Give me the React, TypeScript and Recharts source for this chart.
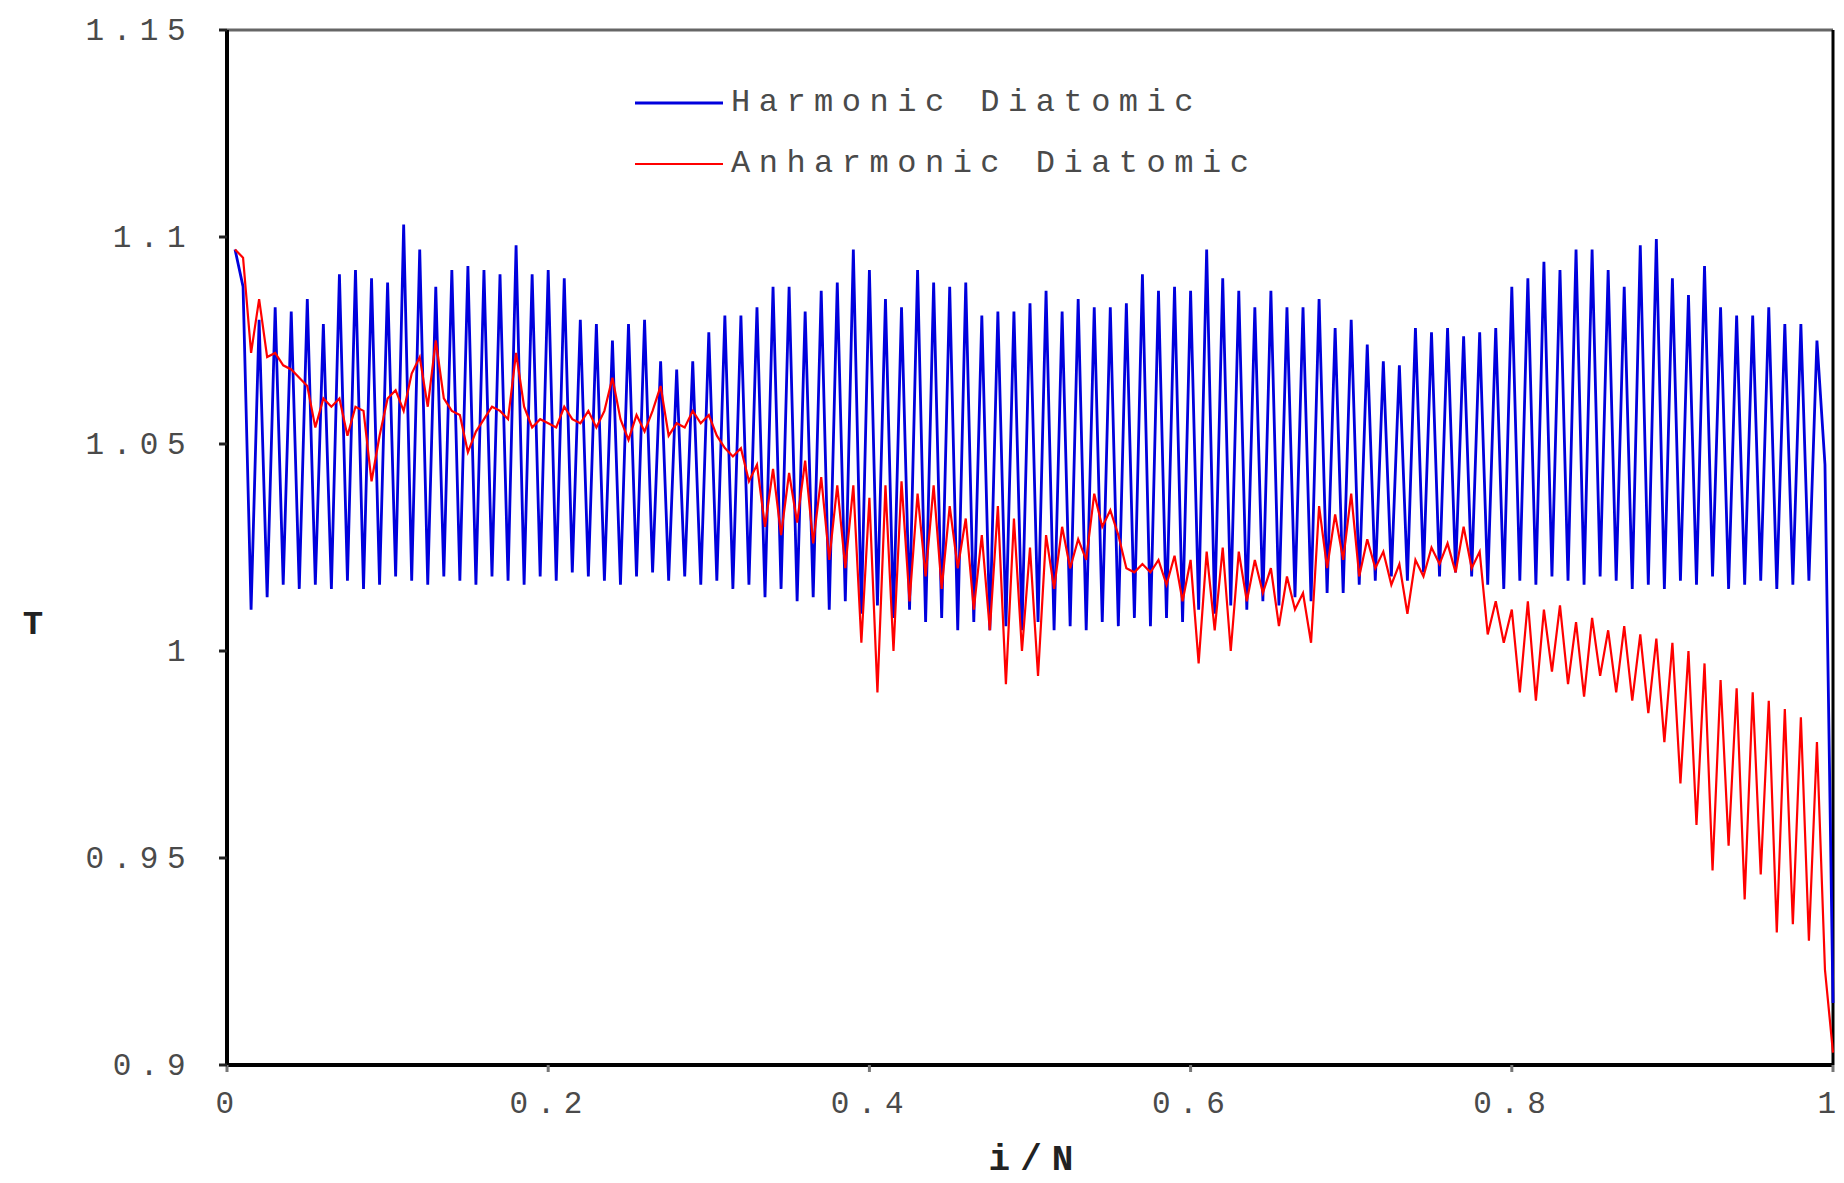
import { LineChart, Line, XAxis, YAxis, ReferenceLine, Legend, Label } from 'recharts';

// Temperature profile along the chain, one value per site (i = 1..N)
const SITES = 200;

const harmonic = [
  1.097, 1.088, 1.010, 1.080, 1.013, 1.083, 1.016, 1.082, 1.015, 1.085,
  1.016, 1.079, 1.015, 1.091, 1.017, 1.092, 1.015, 1.090, 1.016, 1.089,
  1.018, 1.103, 1.017, 1.097, 1.016, 1.088, 1.018, 1.092, 1.017, 1.093,
  1.016, 1.092, 1.018, 1.091, 1.017, 1.098, 1.016, 1.091, 1.018, 1.092,
  1.017, 1.090, 1.019, 1.080, 1.018, 1.079, 1.017, 1.075, 1.016, 1.079,
  1.018, 1.080, 1.019, 1.070, 1.017, 1.068, 1.018, 1.070, 1.016, 1.077,
  1.017, 1.081, 1.015, 1.081, 1.016, 1.083, 1.013, 1.088, 1.015, 1.088,
  1.012, 1.082, 1.013, 1.087, 1.010, 1.089, 1.012, 1.097, 1.009, 1.092,
  1.011, 1.085, 1.008, 1.083, 1.010, 1.092, 1.007, 1.089, 1.008, 1.088,
  1.005, 1.089, 1.007, 1.081, 1.005, 1.082, 1.006, 1.082, 1.005, 1.084,
  1.007, 1.087, 1.005, 1.082, 1.006, 1.085, 1.005, 1.083, 1.007, 1.083,
  1.006, 1.084, 1.008, 1.091, 1.006, 1.087, 1.008, 1.088, 1.007, 1.087,
  1.010, 1.097, 1.009, 1.090, 1.011, 1.087, 1.010, 1.083, 1.012, 1.087,
  1.011, 1.083, 1.013, 1.083, 1.012, 1.085, 1.014, 1.078, 1.014, 1.080,
  1.016, 1.074, 1.017, 1.070, 1.018, 1.069, 1.017, 1.078, 1.019, 1.077,
  1.018, 1.078, 1.019, 1.076, 1.018, 1.077, 1.016, 1.078, 1.015, 1.088,
  1.017, 1.090, 1.016, 1.094, 1.018, 1.092, 1.017, 1.097, 1.016, 1.097,
  1.018, 1.092, 1.017, 1.088, 1.015, 1.098, 1.016, 1.0995, 1.015, 1.090,
  1.017, 1.086, 1.016, 1.093, 1.018, 1.083, 1.015, 1.081, 1.016, 1.081,
  1.017, 1.083, 1.015, 1.079, 1.016, 1.079, 1.017, 1.075, 1.045, 0.915,
];

const anharmonic = [
  1.097, 1.095, 1.072, 1.085, 1.071, 1.072, 1.069, 1.068, 1.066, 1.064,
  1.054, 1.061, 1.059, 1.061, 1.052, 1.059, 1.058, 1.041, 1.052, 1.061,
  1.063, 1.058, 1.067, 1.071, 1.059, 1.075, 1.061, 1.058, 1.057, 1.048,
  1.053, 1.056, 1.059, 1.058, 1.056, 1.072, 1.059, 1.054, 1.056, 1.055,
  1.054, 1.059, 1.056, 1.055, 1.058, 1.054, 1.058, 1.066, 1.056, 1.051,
  1.057, 1.053, 1.058, 1.064, 1.052, 1.055, 1.054, 1.058, 1.055, 1.057,
  1.052, 1.049, 1.047, 1.049, 1.041, 1.045, 1.030, 1.044, 1.028, 1.043,
  1.031, 1.046, 1.026, 1.042, 1.022, 1.040, 1.020, 1.040, 1.002, 1.037,
  0.990, 1.040, 1.000, 1.041, 1.012, 1.038, 1.018, 1.040, 1.015, 1.035,
  1.020, 1.032, 1.010, 1.028, 1.005, 1.035, 0.992, 1.032, 1.000, 1.025,
  0.994, 1.028, 1.015, 1.030, 1.020, 1.027, 1.022, 1.038, 1.030, 1.034,
  1.028, 1.020, 1.019, 1.021, 1.019, 1.022, 1.016, 1.023, 1.012, 1.022,
  0.997, 1.024, 1.005, 1.025, 1.000, 1.024, 1.012, 1.022, 1.014, 1.020,
  1.006, 1.018, 1.010, 1.014, 1.002, 1.035, 1.020, 1.033, 1.022, 1.038,
  1.018, 1.027, 1.020, 1.024, 1.016, 1.021, 1.009, 1.022, 1.018, 1.025,
  1.021, 1.026, 1.019, 1.030, 1.020, 1.024, 1.004, 1.012, 1.002, 1.010,
  0.990, 1.012, 0.988, 1.010, 0.995, 1.011, 0.992, 1.007, 0.989, 1.008,
  0.994, 1.005, 0.990, 1.006, 0.988, 1.004, 0.985, 1.003, 0.978, 1.002,
  0.968, 1.000, 0.958, 0.997, 0.947, 0.993, 0.953, 0.991, 0.940, 0.990,
  0.946, 0.988, 0.932, 0.986, 0.934, 0.984, 0.930, 0.978, 0.923, 0.903,
];

const xTicks = [0, 0.2, 0.4, 0.6, 0.8, 1];
const yTicks = [0.9, 0.95, 1, 1.05, 1.1, 1.15];

const seriesNames = ['Harmonic Diatomic', 'Anharmonic Diatomic'];
const seriesColors = ['#0000dd', '#ff0000'];

const data = harmonic.map((t, k) => ({
  x: (k + 1) / SITES,
  harmonic: t,
  anharmonic: anharmonic[k],
}));

const FONT = "'Courier New', 'Liberation Mono', monospace";
const TEXT = '#4a4a4a';

const YTick = ({ x, y, payload }: any) => (
  <text x={x} y={y} dy={10} textAnchor="end" fill={TEXT} fontFamily={FONT} fontSize={31} letterSpacing={8.5}>
    {String(payload.value)}
  </text>
);

// the last label sits against the right edge of the canvas, so pull it in a little
const XTick = ({ x, y, payload }: any) => (
  <text
    x={payload.value === 1 ? x - 2 : x + 2}
    y={y}
    dy={21}
    textAnchor="middle"
    fill={TEXT}
    fontFamily={FONT}
    fontSize={31}
    letterSpacing={8.5}
  >
    {String(payload.value)}
  </text>
);

const LegendBox = () => (
  <div style={{ fontFamily: FONT, fontSize: 32, letterSpacing: 8.5, color: TEXT }}>
    {seriesNames.map((name, k) => (
      <div key={name} style={{ display: 'flex', alignItems: 'center', height: 61 }}>
        <svg width={88} height={6} style={{ marginRight: 8 }}>
          <line x1={0} y1={3} x2={88} y2={3} stroke={seriesColors[k]} strokeWidth={k === 0 ? 3 : 2} />
        </svg>
        <span style={{ whiteSpace: 'pre' }}>{name}</span>
      </div>
    ))}
  </div>
);

export default function App() {
  return (
    <LineChart width={1836} height={1175} data={data} margin={{ top: 22, right: 11, left: 0, bottom: 58 }}>
      <XAxis
        dataKey="x"
        type="number"
        domain={[0, 1]}
        ticks={xTicks}
        tick={<XTick />}
        tickSize={7}
        tickMargin={20}
        axisLine={{ stroke: '#000', strokeWidth: 4 }}
        tickLine={{ stroke: '#777', strokeWidth: 3 }}
        height={60}
      >
        <Label
          content={({ viewBox }: any) => (
            <text
              x={viewBox.x + viewBox.width / 2 + 6}
              y={viewBox.y + 105}
              textAnchor="middle"
              fill="#222"
              fontFamily={FONT}
              fontSize={36}
              fontWeight="bold"
              letterSpacing={10}
            >
              i/N
            </text>
          )}
        />
      </XAxis>
      <YAxis
        type="number"
        domain={[0.9, 1.15]}
        ticks={yTicks}
        tick={<YTick />}
        tickSize={8}
        tickMargin={25}
        axisLine={{ stroke: '#000', strokeWidth: 4 }}
        tickLine={{ stroke: '#222', strokeWidth: 3 }}
        width={219}
      >
        <Label
          content={({ viewBox }: any) => (
            <text x={viewBox.x + 25} y={viewBox.y + 604} textAnchor="middle" fill="#222" fontFamily={FONT} fontSize={34} fontWeight="bold">
              T
            </text>
          )}
        />
      </YAxis>
      <ReferenceLine y={1.15} stroke="#666" strokeWidth={3} />
      <ReferenceLine x={1} stroke="#000" strokeWidth={3} />
      <Legend
        layout="vertical"
        align="center"
        verticalAlign="middle"
        wrapperStyle={{ position: 'absolute', left: 627, top: 64, width: 'auto' }}
        content={<LegendBox />}
      />
      <Line
        type="linear"
        dataKey="harmonic"
        stroke={seriesColors[0]}
        strokeWidth={2.8}
        dot={false}
        isAnimationActive={false}
      />
      <Line
        type="linear"
        dataKey="anharmonic"
        stroke={seriesColors[1]}
        strokeWidth={2.2}
        dot={false}
        isAnimationActive={false}
      />
    </LineChart>
  );
}
